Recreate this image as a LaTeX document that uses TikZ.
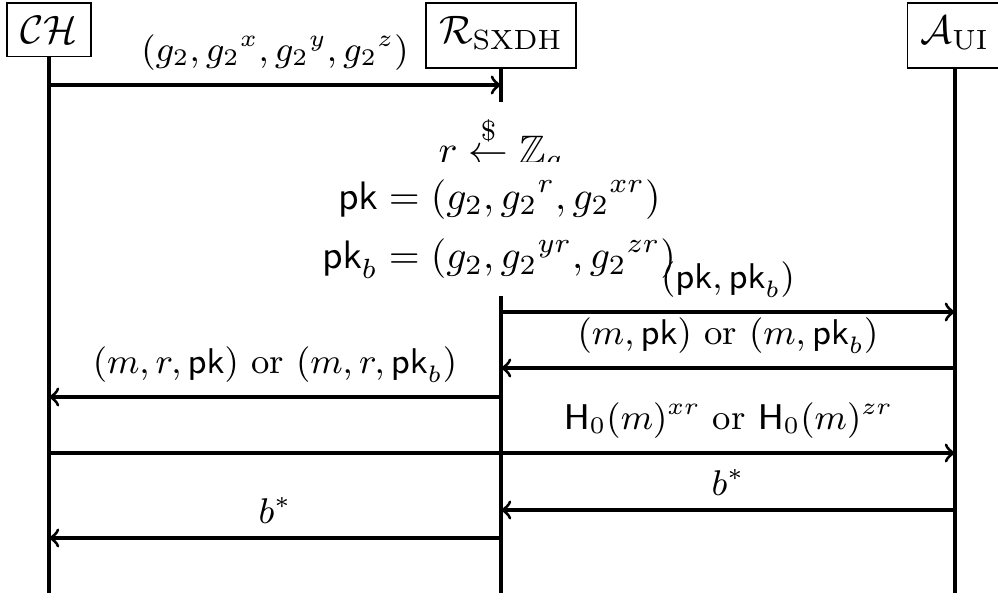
\documentclass[tikz,border=0pt]{standalone}
\usepackage{amsmath,amssymb}
\begin{document}
\begin{tikzpicture}[x=0.2518pt,y=-0.2518pt,
  actor/.style={draw, thin, inner sep=3.33pt, anchor=north},
  tallactor/.style={actor, text height=6.9pt, text depth=2.9pt},
  life/.style={thick},
  msg/.style={thick,->},
  lbl/.style={above, font=\small},
  mid/.style={fill=white, inner sep=3.33pt}]
\useasboundingbox (0,0) rectangle (998,599);
% actors
\node[actor] (ch) at (49,2) {$\mathcal{CH}$};
\node[tallactor] (rs) at (501,2) {$\mathcal{R}_{\mathrm{SXDH}}$};
\node[tallactor] (au) at (955,2) {$\mathcal{A}_{\mathrm{UI}}$};
% lifeline ends
\coordinate (chend) at (49,593);
\coordinate (rsend) at (501,593);
\coordinate (auend) at (955,593);
\draw[life] (ch) -- (chend);
\draw[life] (rs) -- (rsend);
\draw[life] (au) -- (auend);
% computation by the reduction
\node[mid, anchor=base] (samp) at (501,163) {$r \stackrel{\$}{\leftarrow} \mathbb{Z}_q$};
\node[mid, anchor=base] (keys) at (499,209) {$\begin{aligned}[t]
  \mathsf{pk} &= (g_2, {g_2}^{r}, {g_2}^{xr})\\
  \mathsf{pk}_b &= (g_2, {g_2}^{yr}, {g_2}^{zr})
\end{aligned}$};
% message points
\coordinate (c1) at (49,85);   \coordinate (r1) at (501,85);
\coordinate (r2) at (501,312); \coordinate (a2) at (955,312);
\coordinate (a3) at (955,368); \coordinate (r3) at (501,368);
\coordinate (r4) at (501,397); \coordinate (c4) at (49,397);
\coordinate (c5) at (49,453);  \coordinate (a5) at (955,453);
\coordinate (a6) at (955,510); \coordinate (r6) at (501,510);
\coordinate (r7) at (501,538); \coordinate (c7) at (49,538);
% messages
\draw[msg] (c1) -- node[lbl] {$(g_2, {g_2}^{x}, {g_2}^{y}, {g_2}^{z})$} (r1);
\draw[msg] (r2) -- node[lbl] {$(\mathsf{pk}, \mathsf{pk}_b)$} (a2);
\draw[msg] (a3) -- node[lbl] {$(m, \mathsf{pk})$ or $(m, \mathsf{pk}_b)$} (r3);
\draw[msg] (r4) -- node[lbl] {$(m, r, \mathsf{pk})$ or $(m, r, \mathsf{pk}_b)$} (c4);
\draw[msg] (c5) -- node[lbl, pos=0.75] {$\mathsf{H}_0(m)^{xr}$ or $\mathsf{H}_0(m)^{zr}$} (a5);
\draw[msg] (a6) -- node[lbl] {$b^*$} (r6);
\draw[msg] (r7) -- node[lbl] {$b^*$} (c7);
\end{tikzpicture}
\end{document}
